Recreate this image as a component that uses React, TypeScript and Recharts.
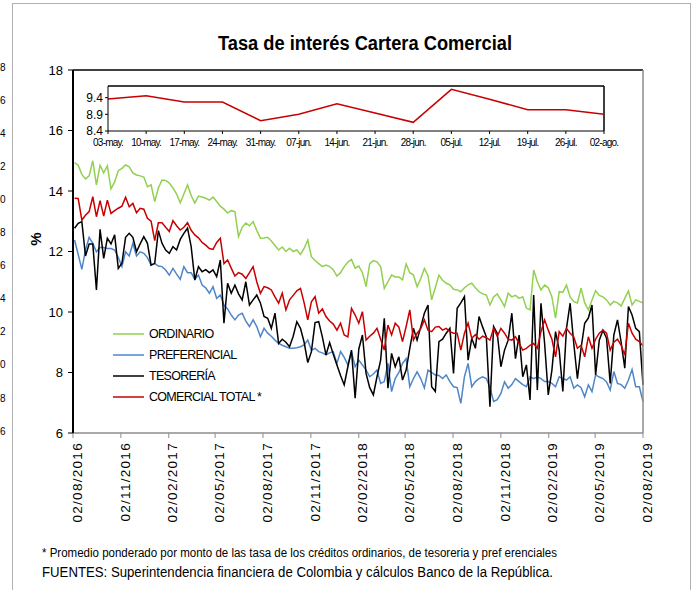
import React from 'react';
import { LineChart, Line, XAxis, YAxis, ReferenceLine, Legend } from 'recharts';

const FONT = '"Liberation Sans", Arial, sans-serif';

// ---------- main chart data (weekly, 05/08/2016 .. 02/08/2019) ----------
const axisStart = '02/08/2016';
const firstObservation = '05/08/2016';
const tickLabels = [
  '02/08/2016', '02/11/2016', '02/02/2017', '02/05/2017', '02/08/2017', '02/11/2017',
  '02/02/2018', '02/05/2018', '02/08/2018', '02/11/2018', '02/02/2019', '02/05/2019', '02/08/2019',
];
const yTicks = [6, 8, 10, 12, 14, 16, 18];
const seriesNames = ['ORDINARIO', 'PREFERENCIAL', 'TESORERÍA', 'COMERCIAL TOTAL *'];

const ordinario = [
  14.94, 14.85, 14.55, 14.4, 14.5, 15.0, 14.2, 14.85, 14.6, 14.83,
  14.07, 14.3, 14.67, 14.75, 14.86, 14.8, 14.6, 14.53, 14.5, 14.46,
  14.14, 14.2, 13.65, 14.1, 14.36, 14.35, 14.26, 14.1, 13.9, 13.61,
  13.9, 14.2, 13.85, 13.6, 13.83, 13.8, 13.76, 13.7, 13.8, 13.65,
  13.5, 13.4, 13.27, 13.35, 13.32, 12.49, 12.8, 12.94, 12.85, 12.99,
  12.7, 12.44, 12.45, 12.47, 12.35, 12.2, 12.05, 12.15, 12.0, 12.11,
  12.0, 12.05, 11.9, 12.1, 12.38, 11.83, 11.7, 11.6, 11.5, 11.55,
  11.5, 11.4, 11.19, 11.3, 11.5, 11.65, 11.74, 11.45, 11.52, 11.3,
  10.84, 11.6, 11.7, 11.66, 11.5, 10.78, 11.0, 11.22, 11.16, 11.16,
  11.06, 11.59, 11.3, 11.22, 10.84, 11.1, 11.44, 11.2, 10.4, 10.8,
  11.22, 11.05, 10.95, 10.9, 10.75, 10.73, 10.67, 10.8, 10.9, 10.95,
  10.8, 10.67, 10.6, 10.56, 10.23, 10.5, 10.6, 10.4, 10.18, 10.62,
  10.5, 10.55, 10.45, 10.5, 10.13, 10.07, 11.39, 11.0, 10.73, 10.89,
  10.8, 10.5, 9.8, 10.67, 10.65, 10.89, 10.5, 10.34, 10.3, 10.79,
  10.3, 10.07, 10.4, 10.7, 10.55, 10.5, 10.4, 10.23, 10.35, 10.3,
  10.2, 10.45, 10.7, 10.23, 10.4, 10.35, 10.3,
];

const preferencial = [
  12.38, 11.9, 11.41, 12.05, 12.47, 12.27, 11.99, 12.13, 12.13, 12.1,
  12.1, 12.05, 11.8, 11.5, 11.99, 11.85, 12.27, 11.85, 11.99, 11.94,
  11.8, 11.55, 11.6, 11.52, 11.5, 11.39, 11.22, 11.44, 11.25, 11.08,
  11.5, 11.3, 11.3, 11.08, 11.22, 10.89, 10.8, 10.62, 10.84, 10.45,
  10.56, 10.23, 10.1, 9.9, 9.74, 9.9, 9.96, 9.7, 9.52, 9.74,
  9.52, 9.18, 9.46, 9.3, 9.2, 9.07, 8.96, 8.9, 8.85, 8.8,
  8.8, 8.82, 8.85, 8.91, 9.07, 8.74, 8.8, 8.69, 8.65, 8.58,
  8.65, 8.69, 8.3, 8.69, 8.5, 8.25, 8.69, 8.19, 8.41, 8.25,
  8.08, 7.86, 7.95, 8.08, 7.64, 7.7, 8.3, 7.37, 7.8, 8.0,
  8.3, 8.46, 7.53, 7.8, 8.02, 7.8, 7.49, 8.08, 8.0, 7.92,
  7.9, 7.8, 7.92, 7.7, 7.53, 7.5, 6.98, 7.86, 8.3, 7.53,
  7.7, 7.8, 7.86, 7.8, 7.5, 7.04, 7.1, 7.31, 7.69, 7.48,
  7.6, 7.8, 7.7, 7.6, 7.53, 7.86, 7.8, 7.86, 7.8, 7.7,
  7.7, 7.64, 7.53, 7.86, 7.8, 7.75, 7.86, 7.48, 7.59, 7.5,
  7.2, 7.59, 7.37, 7.92, 7.85, 7.8, 7.69, 7.42, 8.03, 7.64,
  7.6, 7.48, 7.75, 8.1, 7.53, 7.53, 7.04,
];

const tesoreria = [
  12.77, 12.93, 12.99, 11.85, 12.25, 12.25, 10.73, 12.73, 11.77, 12.44,
  12.25, 12.55, 11.44, 11.61, 12.47, 12.6, 12.47, 11.99, 12.25, 12.49,
  12.27, 11.55, 11.61, 12.69, 12.27, 12.05, 11.94, 12.16, 12.05, 12.4,
  12.6, 12.77, 12.16, 11.06, 11.5, 11.33, 11.4, 11.3, 11.39, 11.17,
  11.72, 9.63, 10.95, 10.62, 10.89, 10.6, 10.4, 11.0, 10.23, 10.4,
  10.56, 10.3, 9.85, 9.79, 9.46, 9.96, 8.96, 9.1, 9.0, 8.85,
  9.2, 9.68, 9.46, 9.0, 8.33, 8.69, 9.65, 9.68, 9.18, 8.58,
  8.99, 8.6, 8.25, 7.9, 7.59, 8.19, 8.74, 7.15, 8.77, 9.24,
  7.97, 7.5, 7.26, 7.86, 8.41, 9.79, 7.48, 8.63, 8.19, 8.52,
  7.75, 8.08, 8.8, 9.46, 9.07, 9.5, 9.96, 10.23, 7.53, 7.37,
  9.02, 9.1, 9.3, 9.46, 7.97, 10.12, 10.3, 10.51, 8.41, 9.13,
  8.8, 9.85, 9.5, 9.18, 6.87, 9.52, 9.3, 8.19, 8.74, 9.07,
  9.96, 8.46, 9.24, 7.86, 8.25, 7.09, 10.56, 7.42, 10.29, 8.96,
  7.26, 8.08, 9.35, 8.74, 7.37, 9.46, 10.29, 8.96, 7.8, 8.8,
  9.63, 9.8, 10.23, 7.92, 9.07, 9.4, 9.13, 7.64, 9.24, 9.74,
  9.0, 8.14, 10.18, 9.9, 9.46, 9.35, 7.59,
];

const comercialTotal = [
  13.76, 13.75, 13.04, 13.2, 13.32, 13.81, 13.15, 13.68, 13.17, 13.7,
  13.26, 13.35, 13.43, 13.5, 13.79, 13.48, 13.59, 13.28, 13.43, 13.4,
  13.1, 13.0, 12.36, 12.95, 12.95, 12.8, 12.66, 13.02, 12.85, 12.71,
  12.8, 12.95, 12.7, 12.55, 12.45, 12.3, 12.21, 12.1, 12.07, 12.3,
  12.44, 11.6, 11.72, 11.45, 11.19, 11.3, 11.25, 11.11, 11.3, 11.5,
  11.0, 10.62, 10.84, 10.8, 10.73, 10.5, 10.29, 10.62, 10.07, 10.4,
  10.55, 10.7, 10.78, 10.3, 9.74, 10.34, 10.51, 9.96, 10.1, 9.85,
  9.7, 9.6, 9.4, 9.63, 9.24, 9.18, 10.12, 9.9, 9.63, 10.01,
  9.07, 9.2, 9.3, 9.46, 9.1, 8.74, 9.57, 9.24, 9.63, 9.5,
  9.02, 9.52, 10.07, 9.07, 9.3, 9.45, 9.74, 9.4, 9.35, 9.5,
  9.52, 9.4, 9.46, 9.35, 9.3, 9.3, 8.74, 9.3, 9.63, 9.13,
  9.25, 9.1, 9.2, 9.15, 9.07, 9.46, 9.2, 9.46, 9.3, 9.1,
  9.07, 9.18, 8.96, 8.74, 8.8, 8.9, 8.96, 8.8, 9.35, 9.74,
  9.4, 9.1, 8.52, 9.35, 9.2, 9.46, 9.3, 9.18, 8.8, 8.9,
  8.52, 9.18, 8.8, 9.1, 9.3, 9.4, 9.3, 8.74, 9.0, 9.1,
  8.9, 8.58, 9.63, 9.3, 9.1, 9.02, 8.88,
];

// ---------- inset data ----------
const insetLabels = [
  '03-may.', '10-may.', '17-may.', '24-may.', '31-may.', '07-jun.', '14-jun.',
  '21-jun.', '28-jun.', '05-jul.', '12-jul.', '19-jul.', '26-jul.', '02-ago.',
];
const insetValues = [9.36, 9.46, 9.27, 9.27, 8.71, 8.9, 9.22, 8.94, 8.66, 9.65, 9.35, 9.04, 9.04, 8.9];
const insetTicks = [8.4, 8.9, 9.4];

// page-edge digits from the neighbouring chart (only their last digit shows)
const edgeNumbers = ['8', '6', '4', '2', '0', '8', '6', '4', '2', '0', '8', '6'];

// ---------- helpers ----------
const toDay = (s: string) => {
  const [d, m, y] = s.split('/').map(Number);
  return Math.round((Date.UTC(y, m - 1, d) - Date.UTC(2016, 7, 2)) / 86400000);
};
const startDay = toDay(axisStart);
const obsStart = toDay(firstObservation);
const tickDays = tickLabels.map(toDay);
const lastDay = tickDays[tickDays.length - 1];
const dayLabel: Record<number, string> = {};
tickDays.forEach((d, i) => (dayLabel[d] = tickLabels[i]));

const mainData = ordinario.map((v, i) => ({
  day: obsStart + 7 * i,
  ord: v,
  pref: preferencial[i],
  tes: tesoreria[i],
  com: comercialTotal[i],
}));
const insetData = insetLabels.map((l, i) => ({ label: l, v: insetValues[i] }));

const DateTick = (props: any) => {
  const { x, y, payload } = props;
  const ax = x + 4;
  const ay = y + 2;
  return (
    <text
      x={ax}
      y={ay}
      transform={`rotate(-90, ${ax}, ${ay})`}
      textAnchor="end"
      dy="0.35em"
      fontSize={13.5}
      letterSpacing={1.3}
      fill="#000"
      fontFamily={FONT}
    >
      {dayLabel[payload.value] ?? ''}
    </text>
  );
};

const InsetTick = (props: any) => {
  const { x, y, payload } = props;
  return (
    <text x={x} y={y + 10} textAnchor="middle" fontSize={10} letterSpacing={-0.8} fill="#000" fontFamily={FONT}>
      {payload.value}
    </text>
  );
};

const renderLegend = (props: any) => {
  const items = [...(props.payload || [])].sort(
    (a: any, b: any) => seriesNames.indexOf(a.value) - seriesNames.indexOf(b.value),
  );
  return (
    <svg width={200} height={90} style={{ display: 'block' }}>
      {items.map((e: any, i: number) => (
        <g key={i}>
          <line x1={0} x2={31} y1={8 + i * 21} y2={8 + i * 21} stroke={e.color} strokeWidth={1.5} />
          <text x={36} y={8 + i * 21} dy="0.35em" fontSize={12.5} letterSpacing={-0.7} fill="#000" fontFamily={FONT}>
            {e.value}
          </text>
        </g>
      ))}
    </svg>
  );
};

export default function App() {
  return (
    <div
      style={{
        position: 'absolute',
        left: 0,
        top: 0,
        width: 696,
        height: 590,
        overflow: 'hidden',
        background: '#fff',
        fontFamily: FONT,
      }}
    >
      {/* page frame */}
      <div
        style={{
          position: 'absolute',
          left: 12,
          top: 3,
          width: 679,
          height: 587,
          borderLeft: '1px solid #b0b0b0',
          borderTop: '1px solid #b0b0b0',
          borderRight: '1px solid #b0b0b0',
          boxSizing: 'border-box',
        }}
      />

      {/* main chart */}
      <div style={{ position: 'absolute', left: 0, top: 0 }}>
        <LineChart
          width={696}
          height={590}
          data={mainData}
          margin={{ top: 70, right: 13, bottom: 67, left: 13 }}
        >
          <XAxis
            dataKey="day"
            type="number"
            domain={[startDay, lastDay]}
            ticks={tickDays}
            interval={0}
            height={90}
            tick={<DateTick />}
            tickSize={5}
            axisLine={{ stroke: '#8c8c8c', strokeWidth: 1.5 }}
            tickLine={{ stroke: '#8c8c8c' }}
          />
          <YAxis
            yAxisId="left"
            domain={[6, 18]}
            ticks={yTicks}
            width={60}
            tickSize={5}
            tickMargin={5}
            interval={0}
            axisLine={{ stroke: '#000', strokeWidth: 2 }}
            tickLine={{ stroke: '#000' }}
            tick={{ fontSize: 13, fill: '#000', fontFamily: FONT }}
          />
          <YAxis
            yAxisId="right"
            orientation="right"
            domain={[6, 18]}
            ticks={yTicks}
            width={40}
            tickSize={5}
            tickMargin={9}
            interval={0}
            axisLine={{ stroke: '#8c8c8c', strokeWidth: 1.5 }}
            tickLine={{ stroke: '#8c8c8c' }}
            tick={{ fontSize: 13, fill: '#000', fontFamily: FONT }}
          />
          <ReferenceLine yAxisId="left" y={18} stroke="#000" strokeWidth={1.5} />
          <Legend
            layout="horizontal"
            verticalAlign="middle"
            align="center"
            content={renderLegend}
            wrapperStyle={{ position: 'absolute', left: 113, top: 326, width: 200, height: 90 }}
          />
          <Line yAxisId="left" dataKey="ord" name="ORDINARIO" stroke="#92D050" strokeWidth={1.5} dot={false} isAnimationActive={false} />
          <Line yAxisId="left" dataKey="pref" name="PREFERENCIAL" stroke="#4F86C9" strokeWidth={1.5} dot={false} isAnimationActive={false} />
          <Line yAxisId="left" dataKey="tes" name="TESORERÍA" stroke="#000000" strokeWidth={1.5} dot={false} isAnimationActive={false} />
          <Line yAxisId="left" dataKey="com" name="COMERCIAL TOTAL *" stroke="#C80000" strokeWidth={1.5} dot={false} isAnimationActive={false} />
        </LineChart>
      </div>

      {/* inset chart */}
      <div style={{ position: 'absolute', left: 0, top: 0 }}>
        <LineChart width={696} height={200} data={insetData} margin={{ top: 86, right: 92, left: 68, bottom: 49 }}>
          <XAxis
            dataKey="label"
            interval={0}
            height={20}
            tick={<InsetTick />}
            tickSize={3}
            axisLine={{ stroke: '#000' }}
            tickLine={{ stroke: '#000' }}
          />
          <YAxis
            domain={[8.4, 9.75]}
            ticks={insetTicks}
            interval={0}
            width={40}
            tickSize={3}
            tickMargin={2}
            allowDataOverflow
            tickFormatter={(v: number) => v.toFixed(1)}
            axisLine={{ stroke: '#000' }}
            tickLine={{ stroke: '#000' }}
            tick={{ fontSize: 12, fill: '#000', fontFamily: FONT }}
          />
          <ReferenceLine y={9.75} stroke="#000" strokeWidth={1.5} />
          <ReferenceLine x="02-ago." stroke="#000" strokeWidth={1.5} />
          <Line dataKey="v" stroke="#C80000" strokeWidth={1.5} dot={false} isAnimationActive={false} />
        </LineChart>
      </div>

      {/* texts */}
      <svg width={696} height={590} style={{ position: 'absolute', left: 0, top: 0, pointerEvents: 'none' }}>
        {edgeNumbers.map((n, i) => (
          <text key={n + i} x={0} y={67 + i * 33.1} dy="0.35em" textAnchor="start" fontSize={10} fill="#000" fontFamily={FONT}>
            {n}
          </text>
        ))}
        <text x={218} y={50} fontSize={20} fontWeight="bold" textLength={294} lengthAdjust="spacingAndGlyphs" fill="#000" fontFamily={FONT}>
          Tasa de interés Cartera Comercial
        </text>
        <text x={36} y={239} transform="rotate(-90, 36, 239)" textAnchor="middle" dy="0.35em" fontSize={15} fontWeight="bold" fill="#000" fontFamily={FONT}>
          %
        </text>
        <text x={42} y={557} fontSize={12} textLength={515} lengthAdjust="spacingAndGlyphs" fill="#000" fontFamily={FONT}>
          * Promedio ponderado por monto de las tasa de los créditos ordinarios, de tesoreria y pref erenciales
        </text>
        <text x={42} y={577} fontSize={14} textLength={511} lengthAdjust="spacingAndGlyphs" fill="#000" fontFamily={FONT}>
          FUENTES:   Superintendencia financiera de Colombia  y cálculos Banco de la República.
        </text>
      </svg>
    </div>
  );
}
